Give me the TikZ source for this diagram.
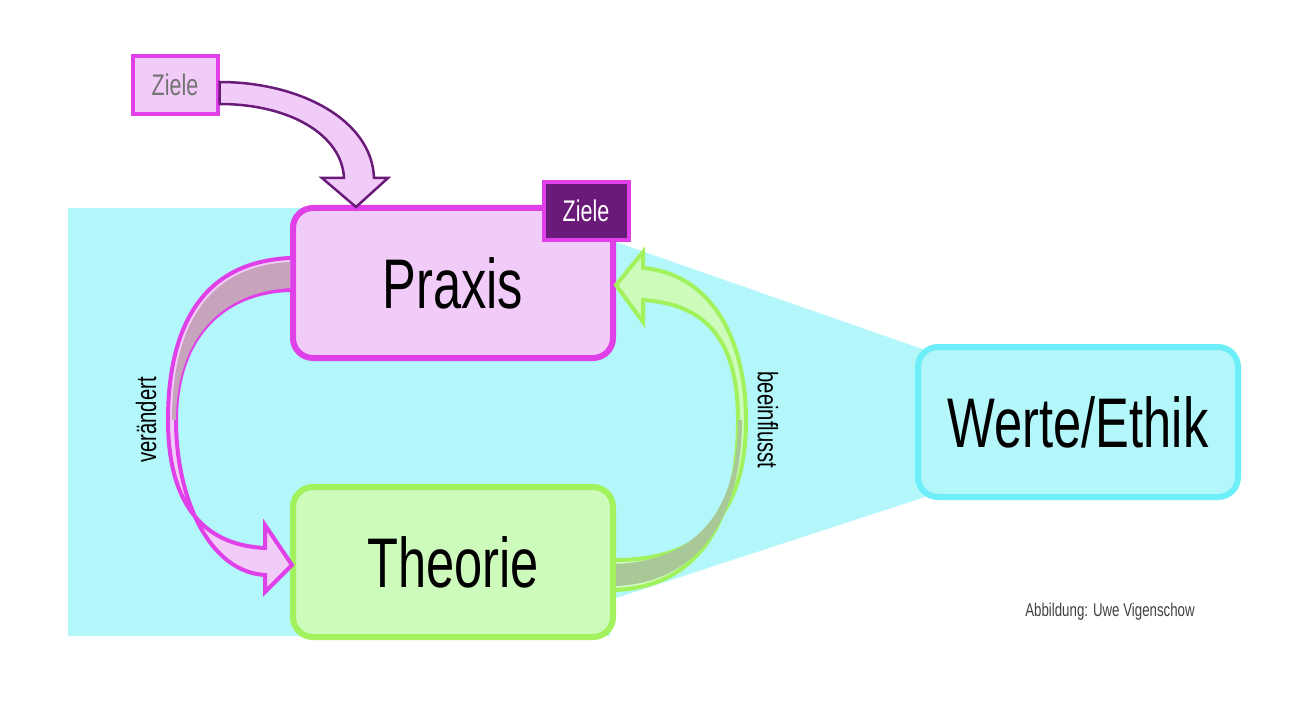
\documentclass[tikz,border=0pt]{standalone}
\usepackage{fontspec}
\setmainfont{Liberation Sans}[FakeStretch=0.72]
\usetikzlibrary{positioning}
\definecolor{cyanbg}{HTML}{B3F7FB}
\definecolor{cyanline}{HTML}{6EEEF8}
\definecolor{pinkfill}{HTML}{F2CCF9}
\definecolor{pinkline}{HTML}{E040E8}
\definecolor{greenfill}{HTML}{CCFBBB}
\definecolor{greenline}{HTML}{A2F25E}
\definecolor{darkpurple}{HTML}{6A1A78}
\definecolor{mauve}{HTML}{C8A4BC}
\definecolor{greygreen}{HTML}{A8C898}
\tikzset{
  box/.style={rounded corners=4mm, line width=1.2mm, minimum width=64mm, minimum height=30mm, font=\fontsize{40}{44}\selectfont},
  tag/.style={line width=0.8mm, minimum width=17mm, minimum height=11.5mm, inner sep=0pt, font=\fontsize{17}{19}\selectfont},
}
\begin{document}
\begin{tikzpicture}[x=0.2mm,y=-0.2mm]
  \useasboundingbox (0,0) rectangle (1298,704);
  \fill[white] (0,0) rectangle (1298,704);
  % background
  \fill[cyanbg] (68,208) -- (610,208) -- (610,240) -- (925,350) -- (925,497)
     -- (610,600) -- (610,636) -- (68,636) -- cycle;

  \node[box, draw=pinkline, fill=pinkfill] (praxis) at (453,283) {Praxis};
  \node[box, draw=greenline, fill=greenfill] (theorie) at (453,562) {Theorie};
  \node[box, draw=cyanline, fill=cyanbg] (werte) at (1078,422) {Werte/Ethik};
  \node[tag, draw=pinkline, fill=pinkfill, text=black!55] (ziele) at (175,85) {Ziele};
  \node[tag, draw=pinkline, fill=darkpurple, text=white] (zieletag) at (586,211) {Ziele};

  % Ziele -> Praxis
  \draw[line width=0.5mm, darkpurple, fill=pinkfill]
    (ziele.east |- 0,82) .. controls (300,82) and (372,120) .. (374,178)
    -- (388,178) -- (356,207) -- (322,178) -- (344,178)
    .. controls (342,135) and (290,104) .. (ziele.east |- 0,104) -- cycle;

  % veraendert
  \draw[line width=0.8mm, pinkline, fill=pinkfill]
    (praxis.west |- 0,258) .. controls (200,262) and (168,330) .. (168,420)
    .. controls (168,500) and (200,545) .. (265,548)
    -- (265,525) -- (292,565) -- (265,592) -- (265,575)
    .. controls (210,572) and (176,500) .. (176,420)
    .. controls (176,340) and (220,292) .. (praxis.west |- 0,290);
  \fill[mauve] (290,262) .. controls (205,266) and (172,330) .. (172,420)
    -- (176,420) .. controls (176,340) and (220,292) .. (290,288) -- cycle;

  % beeinflusst
  \draw[line width=0.8mm, greenline, fill=greenfill]
    (theorie.east |- 0,590) .. controls (706,586) and (738,510) .. (738,420)
    .. controls (738,340) and (706,304) .. (643,300)
    -- (643,322) -- (616,285) -- (643,252) -- (643,268)
    .. controls (712,274) and (746,340) .. (746,420)
    .. controls (746,510) and (706,560) .. (theorie.east |- 0,560);
  \fill[greygreen] (616,586) .. controls (704,582) and (742,510) .. (742,420)
    -- (738,420) .. controls (738,500) and (706,560) .. (616,564) -- cycle;

  \node[rotate=90, font=\fontsize{16}{18}\selectfont] (lblv) at (146,420) {verändert};
  \node[rotate=-90, font=\fontsize{16}{18}\selectfont] (lblb) at (768,420) {beeinflusst};
  \node[text=black!75, font=\fontsize{10.5}{12}\selectfont] (credit) at (1110,612) {Abbildung: Uwe Vigenschow};
\end{tikzpicture}
\end{document}
